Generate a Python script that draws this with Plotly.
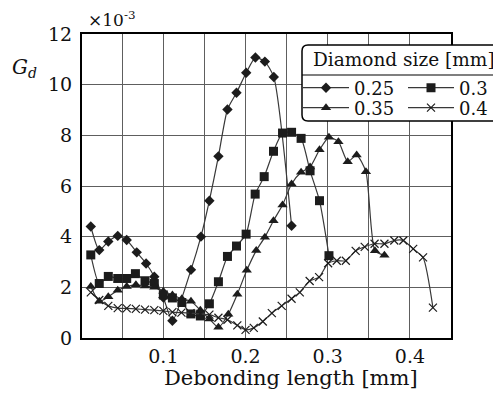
import plotly.graph_objects as go

# ---------------- data (G_d values in units of 1e-3) ----------------
x_025 = [0.0117, 0.022, 0.033, 0.0445, 0.0554, 0.0676, 0.079, 0.089, 0.1, 0.111,
         0.1336, 0.1457, 0.156, 0.167, 0.178, 0.189, 0.2008, 0.212, 0.2235, 0.2344, 0.256]
y_025 = [4.4, 3.47, 3.81, 4.03, 3.87, 3.38, 2.94, 2.42, 1.6, 0.68,
         2.69, 4.0, 5.42, 7.17, 9.02, 9.68, 10.47, 11.07, 10.91, 10.3, 4.43]

x_030 = [0.0117, 0.022, 0.033, 0.0445, 0.0554, 0.066, 0.0777, 0.089, 0.1, 0.111,
         0.1225, 0.1335, 0.145, 0.156, 0.167, 0.178, 0.189, 0.2007, 0.2117, 0.2227,
         0.234, 0.245, 0.256, 0.2676, 0.2785, 0.29, 0.3015]
y_030 = [3.28, 2.15, 2.43, 2.35, 2.35, 2.54, 2.26, 2.15, 1.7, 1.58,
         1.4, 0.95, 0.87, 1.35, 2.22, 3.22, 3.63, 4.1, 5.68, 6.37,
         7.37, 8.09, 8.12, 7.88, 6.6, 5.42, 3.25]

x_035 = [0.0117, 0.022, 0.033, 0.0445, 0.0554, 0.0666, 0.0777, 0.089, 0.1, 0.111,
         0.1225, 0.1336, 0.145, 0.156, 0.167, 0.179, 0.19, 0.2015, 0.213, 0.2235,
         0.234, 0.245, 0.256, 0.2676, 0.2785, 0.29, 0.3015, 0.313, 0.3243, 0.3352,
         0.3465, 0.3575, 0.369]
y_035 = [2.03, 1.45, 1.63, 1.88, 2.03, 2.1, 2.05, 2.0, 1.85, 1.7,
         1.55, 1.45, 1.1, 0.75, 0.42, 0.94, 1.73, 2.67, 3.45, 3.98,
         4.63, 5.25, 6.08, 6.54, 6.75, 7.43, 7.92, 7.75, 6.96, 7.22,
         6.56, 3.44, 3.27]

x_040 = [0.0117, 0.022, 0.033, 0.0445, 0.0554, 0.0665, 0.0777, 0.089, 0.1, 0.111,
         0.122, 0.133, 0.145, 0.156, 0.167, 0.178, 0.19, 0.2, 0.21, 0.221,
         0.232, 0.244, 0.256, 0.266, 0.278, 0.2895, 0.3005, 0.311, 0.322, 0.334,
         0.345, 0.357, 0.369, 0.381, 0.392, 0.404, 0.416, 0.428]
y_040 = [1.8, 1.5, 1.27, 1.18, 1.17, 1.15, 1.12, 1.1, 1.07, 1.02,
         1.0, 0.98, 0.95, 0.92, 0.8, 0.72, 0.5, 0.32, 0.4, 0.65,
         0.98, 1.27, 1.55, 1.8, 2.25, 2.4, 2.95, 3.05, 3.05, 3.44,
         3.6, 3.72, 3.72, 3.85, 3.85, 3.52, 3.18, 1.2]

series_names = ["0.25", "0.3", "0.35", "0.4"]
x_tick_vals = [0.05, 0.1, 0.15, 0.2, 0.25, 0.3, 0.35, 0.4]
x_tick_text = ["", "0.1", "", "0.2", "", "0.3", "", "0.4"]
y_tick_vals = [0, 2, 4, 6, 8, 10, 12]
y_tick_text = ["0", "2", "4", "6", "8", "10", "12"]

# ---------------- layout helpers ----------------
W, H = 493, 395
L, R, T, B = 82, 42, 34, 57
PW, PH = W - L - R, H - T - B


def px(x):
    return (x - L) / PW


def py(y):
    return (H - B - y) / PH


FONT = "DejaVu Serif"
LINE_COL = "#383838"
MARK_COL = "#1c1c1c"

fig = go.Figure()

styles = [
    dict(symbol="diamond", size=8),
    dict(symbol="square", size=9),
    dict(symbol="triangle-up", size=9),
    dict(symbol="x-thin", size=8, line=dict(width=1.2, color=MARK_COL)),
]
data = [(x_025, y_025), (x_030, y_030), (x_035, y_035), (x_040, y_040)]
legends = ["legend", "legend", "legend2", "legend2"]

for (xs, ys), name, st, lg in zip(data, series_names, styles, legends):
    mk = dict(color=MARK_COL)
    mk.update(st)
    fig.add_trace(go.Scatter(
        x=xs, y=ys, name=name, mode="lines+markers",
        line=dict(color=LINE_COL, width=1.2, shape="spline", smoothing=0.6),
        marker=mk, legend=lg,
    ))

# legend box (rounded rectangle) and separator
x0, x1 = 302, 530
y0, y1 = 45, 121
r = 6
path = (f"M {px(x0 + r)},{py(y0)} L {px(x1 - r)},{py(y0)} "
        f"Q {px(x1)},{py(y0)} {px(x1)},{py(y0 + r)} L {px(x1)},{py(y1 - r)} "
        f"Q {px(x1)},{py(y1)} {px(x1 - r)},{py(y1)} L {px(x0 + r)},{py(y1)} "
        f"Q {px(x0)},{py(y1)} {px(x0)},{py(y1 - r)} L {px(x0)},{py(y0 + r)} "
        f"Q {px(x0)},{py(y0)} {px(x0 + r)},{py(y0)} Z")

shapes = [
    dict(type="path", path=path, xref="paper", yref="paper",
         line=dict(color="black", width=1.5), fillcolor="white", layer="above"),
    dict(type="line", xref="paper", yref="paper", x0=px(x0), x1=px(x1),
         y0=py(75), y1=py(75), line=dict(color="black", width=1.2), layer="above"),
]

annotations = [
    dict(text="Diamond size [mm]", xref="paper", yref="paper", x=px(311), y=py(59),
         xanchor="left", yanchor="middle", showarrow=False,
         font=dict(family=FONT, size=18.5, color="#111")),
    dict(text="Debonding length [mm]", xref="paper", yref="paper", x=px(291), y=py(378),
         xanchor="center", yanchor="middle", showarrow=False,
         font=dict(family=FONT, size=21, color="#111")),
    dict(text="<i>G<sub>d</sub></i>", xref="paper", yref="paper", x=px(24), y=py(68),
         xanchor="center", yanchor="middle", showarrow=False,
         font=dict(family=FONT, size=20, color="#111")),
    dict(text="×10<sup>-3</sup>", xref="paper", yref="paper", x=px(86), y=py(19),
         xanchor="left", yanchor="middle", showarrow=False,
         font=dict(family=FONT, size=17, color="#111")),
]

leg_common = dict(orientation="h", xref="container", yref="container",
                  xanchor="left", yanchor="middle", bgcolor="rgba(0,0,0,0)",
                  borderwidth=0, font=dict(family=FONT, size=18, color="#111"),
                  entrywidth=44, itemwidth=46, traceorder="normal")

fig.update_layout(
    width=W, height=H,
    margin=dict(l=L, r=R, t=T, b=B, autoexpand=False),
    paper_bgcolor="white", plot_bgcolor="white",
    showlegend=True,
    legend=dict(x=298 / W, y=1 - 88 / H, **leg_common),
    legend2=dict(x=298 / W, y=1 - 108 / H, **leg_common),
    shapes=shapes, annotations=annotations,
    xaxis=dict(range=[0.001, 0.45], tickvals=x_tick_vals, ticktext=x_tick_text,
               showgrid=True, gridcolor="#5e5e5e", gridwidth=1,
               showline=True, mirror=True, linecolor="black", linewidth=2,
               zeroline=False, ticks="", ticklabelstandoff=0,
               tickfont=dict(family=FONT, size=19, color="#111")),
    yaxis=dict(range=[0, 12], tickvals=y_tick_vals, ticktext=y_tick_text,
               showgrid=True, gridcolor="#5e5e5e", gridwidth=1,
               showline=True, mirror=True, linecolor="black", linewidth=2,
               zeroline=False, ticks="", ticklabelstandoff=4,
               tickfont=dict(family=FONT, size=19, color="#111")),
)

fig.write_html("out.html")
